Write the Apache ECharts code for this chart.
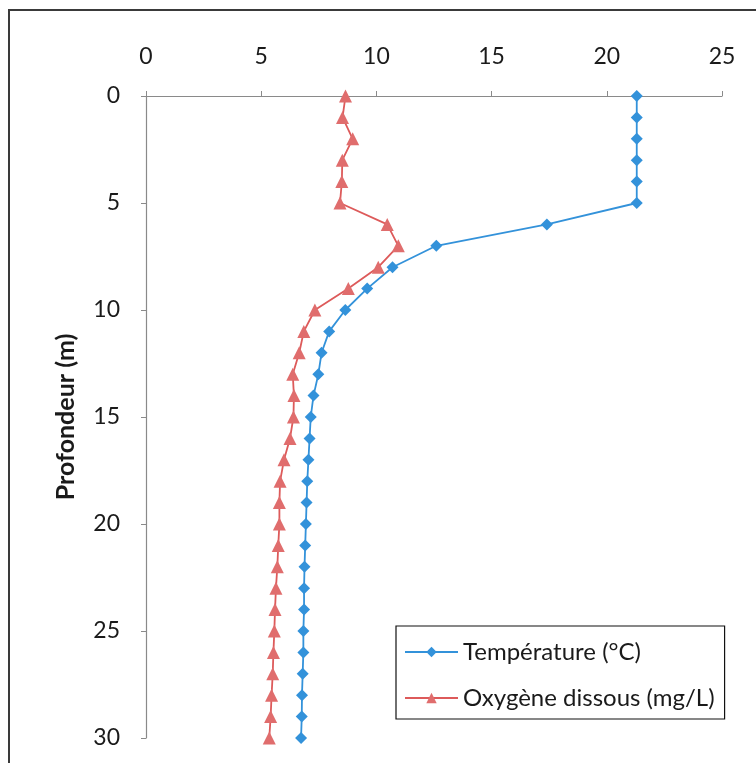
<!DOCTYPE html>
<html>
<head>
<meta charset="UTF-8">
<title>Profil</title>
<script src="https://cdn.jsdelivr.net/npm/echarts@6/dist/echarts.min.js"></script>
<style>
  html, body { margin: 0; padding: 0; background: #fff; }
  #chartArea { width: 756px; height: 763px; }
</style>
</head>
<body>
<div id="chartArea"></div>
<script>
// profondeur (m)
var depth = [0, 1, 2, 3, 4, 5, 6, 7, 8, 9, 10, 11, 12, 13, 14, 15, 16, 17, 18, 19, 20,
  21, 22, 23, 24, 25, 26, 27, 28, 29, 30];
// température (°C)
var temperature = [21.3, 21.3, 21.3, 21.3, 21.3, 21.3, 17.4, 12.6, 10.7, 9.6, 8.65,
  7.95, 7.62, 7.48, 7.27, 7.15, 7.1, 7.05, 7.0, 6.97, 6.94, 6.91, 6.88, 6.86, 6.86,
  6.83, 6.83, 6.8, 6.77, 6.76, 6.73];
// oxygène dissous (mg/L)
var oxygen = [8.66, 8.53, 8.97, 8.52, 8.5, 8.42, 10.47, 10.95, 10.08, 8.78, 7.33,
  6.85, 6.65, 6.37, 6.42, 6.4, 6.25, 5.99, 5.82, 5.79, 5.79, 5.74, 5.7, 5.64, 5.6,
  5.57, 5.53, 5.5, 5.45, 5.41, 5.35];
var xTicks = [0, 25, 5];   // min, max, interval
var yTicks = [0, 30, 5];

var names = ['Température (°C)', 'Oxygène dissous (mg/L)'];

function pairs(vals) {
  var out = [];
  for (var i = 0; i < depth.length; i++) {
    out.push([vals[i], depth[i]]);
  }
  return out;
}

var font = 'Lato, "Open Sans", sans-serif';
var myChart = echarts.init(document.getElementById('chartArea'));
var option = {
  animation: false,
  textStyle: { fontFamily: font },
  graphic: [{
    type: 'rect',
    shape: { x: 9, y: 10, width: 800, height: 800 },
    style: { fill: 'none', stroke: '#3a3a3a', lineWidth: 2 },
    silent: true
  }],
  grid: { left: 146, right: 34, top: 96, bottom: 25 },
  xAxis: {
    type: 'value',
    position: 'top',
    min: xTicks[0],
    max: xTicks[1],
    interval: xTicks[2],
    axisLine: { show: true, onZero: false, lineStyle: { color: '#8a8a8a', width: 1.2 } },
    axisTick: { show: true, inside: false, length: 5, lineStyle: { color: '#8a8a8a' } },
    axisLabel: { color: '#1a1a1a', fontSize: 23, margin: 28, fontFamily: font },
    splitLine: { show: false }
  },
  yAxis: {
    type: 'value',
    inverse: true,
    min: yTicks[0],
    max: yTicks[1],
    interval: yTicks[2],
    name: 'Profondeur (m)',
    nameLocation: 'middle',
    nameGap: 68,
    nameTextStyle: { color: '#1a1a1a', fontSize: 25, fontWeight: 'bold', fontFamily: font },
    axisLine: { show: true, onZero: false, lineStyle: { color: '#8a8a8a', width: 1.2 } },
    axisTick: { show: true, inside: false, length: 5, lineStyle: { color: '#8a8a8a' } },
    axisLabel: { color: '#1a1a1a', fontSize: 23, margin: 26, fontFamily: font },
    splitLine: { show: false }
  },
  legend: {
    orient: 'vertical',
    left: 396,
    top: 626,
    width: 329,
    padding: [14, 10, 9, 8],
    itemGap: 22,
    itemWidth: 53,
    itemHeight: 13,
    borderColor: '#111',
    borderWidth: 1.2,
    backgroundColor: '#fff',
    textStyle: { fontSize: 24, color: '#1a1a1a', fontFamily: font },
    data: names
  },
  series: [{
    name: names[0],
    type: 'line',
    data: pairs(temperature),
    symbol: 'diamond',
    symbolSize: 12,
    color: '#3392da',
    lineStyle: { color: '#3392da', width: 1.8 },
    itemStyle: { color: '#3392da' }
  }, {
    name: names[1],
    type: 'line',
    data: pairs(oxygen),
    symbol: 'triangle',
    symbolSize: 13,
    color: '#dd5a5a',
    lineStyle: { color: '#dd5a5a', width: 1.8 },
    itemStyle: { color: '#e06d6d' }
  }]
};
myChart.setOption(option);
</script>
</body>
</html>
